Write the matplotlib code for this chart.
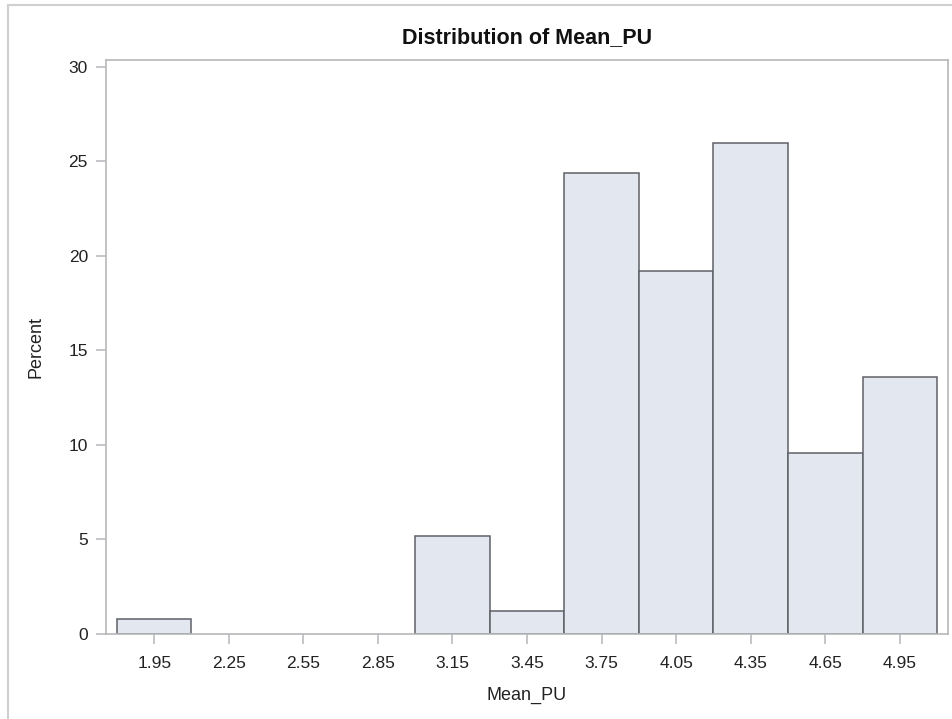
import matplotlib
matplotlib.use("Agg")
import matplotlib.pyplot as plt
from matplotlib.lines import Line2D

plt.rcParams['font.family'] = ['Liberation Sans', 'DejaVu Sans']

# bin midpoints and percent per bin
midpoints = [1.95, 2.25, 2.55, 2.85, 3.15, 3.45, 3.75, 4.05, 4.35, 4.65, 4.95]
percents = [0.8, 0.0, 0.0, 0.0, 5.2, 1.2, 24.4, 19.2, 26.0, 9.6, 13.6]
tick_labels = ['1.95', '2.25', '2.55', '2.85', '3.15', '3.45', '3.75', '4.05', '4.35', '4.65', '4.95']
bin_width = 0.3

fill = '#e3e7f0'
edge = '#5e6168'
frame = '#b5b7ba'

fig = plt.figure(figsize=(9.53, 7.19), dpi=100)
ax = fig.add_axes([106 / 953, 1 - 634 / 719, (948 - 106) / 953, (634 - 60) / 719])

# only draw the non-empty bins
for x, p in zip(midpoints, percents):
    if p > 0:
        ax.bar(x, p, width=bin_width, color=fill, edgecolor=edge, linewidth=1.1, zorder=2)

ax.set_xlim(1.756, 5.144)
ax.set_ylim(0, 30.37)
ax.set_xticks(midpoints)
ax.set_xticklabels(tick_labels)
ax.set_yticks([0, 5, 10, 15, 20, 25, 30])

for s in ax.spines.values():
    s.set_color(frame)
    s.set_linewidth(1.2)

ax.tick_params(axis='both', direction='out', length=7, width=1.1, color=frame,
               labelsize=12.5, labelcolor='#222222')
ax.tick_params(axis='x', pad=9)
ax.tick_params(axis='y', pad=6)

ax.set_xlabel('Mean_PU', fontsize=13, color='#222222', labelpad=11)
ax.set_ylabel('Percent', fontsize=13, color='#222222', labelpad=17)
ax.set_title('Distribution of Mean_PU', fontsize=15.5, fontweight='bold',
             color='#111111', pad=12)

# outer graph border (top and left visible)
fig.add_artist(Line2D([8 / 953, 1], [1 - 5 / 719, 1 - 5 / 719], color='#cfcfcf', lw=1.5))
fig.add_artist(Line2D([8 / 953, 8 / 953], [0, 1 - 5 / 719], color='#cfcfcf', lw=1.5))

fig.savefig('out.png', dpi=100)
